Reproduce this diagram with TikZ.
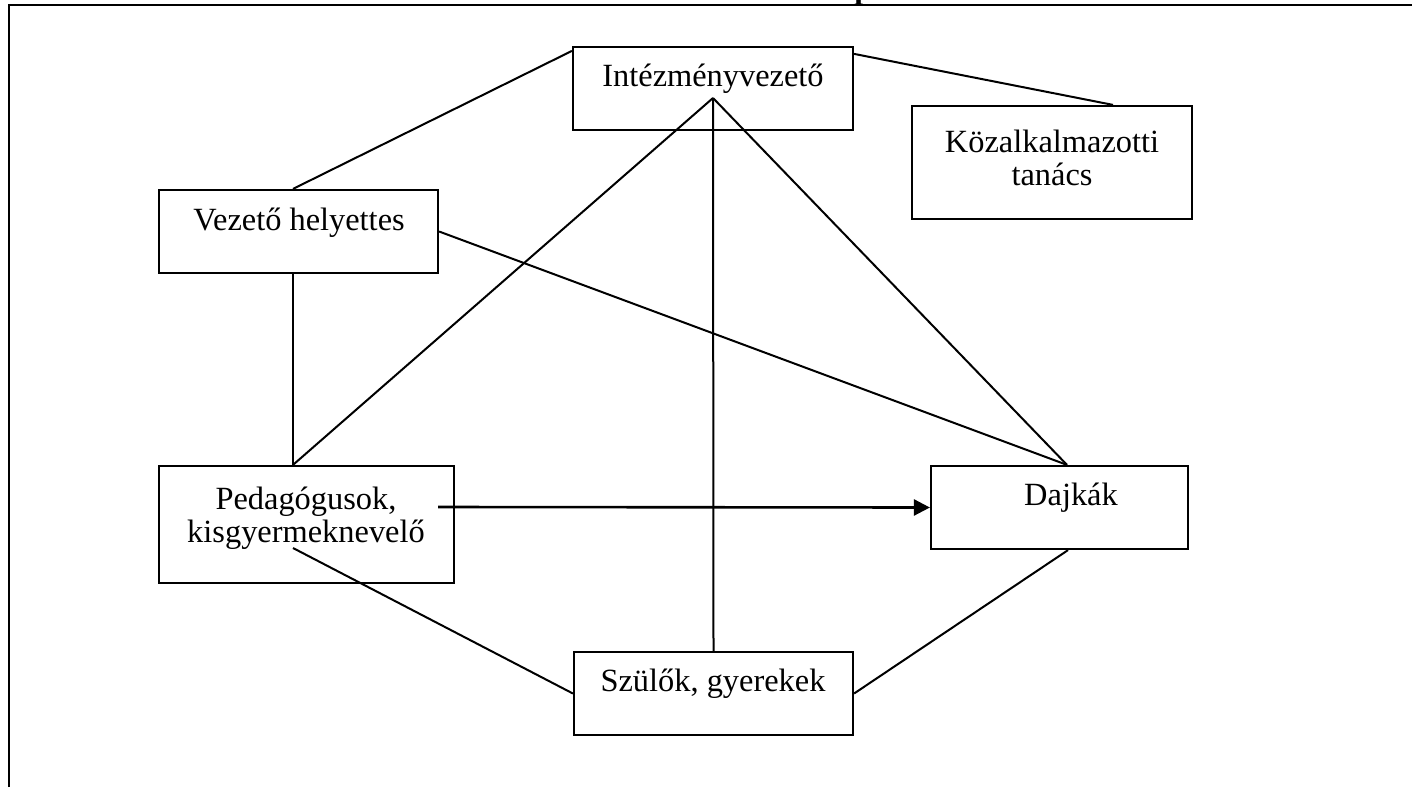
\documentclass[tikz,border=0pt]{standalone}
\usepackage{fontspec}
\setmainfont{Liberation Serif}
\usetikzlibrary{arrows.meta,calc}
\begin{document}
\begin{tikzpicture}[x=0.5pt,y=-0.5pt,
  box/.style={draw,line width=1.1pt,fill=white,minimum width=#1,inner sep=0pt},
  lbl/.style={font=\fontsize{16.2}{16.5}\selectfont,align=center,inner sep=0pt},
  conn/.style={line width=1pt},
  arr/.style={line width=1.3pt,-{Triangle[length=8pt,width=8pt]}}]
\useasboundingbox (0,0) rectangle (1412,787);
\begin{scope}
\clip (0,0) rectangle (1412,787);
\node[anchor=base west,inner sep=0pt,font=\fontsize{16}{16}\selectfont\bfseries] (ttl) at (854,-2) {p};
\end{scope}
\draw[line width=1.2pt] (9,787) -- (9,5) -- (1412,5);

% boxes
\node[box=140pt,minimum height=41.5pt] (iv) at (713,88.5) {};
\node[box=140pt,minimum height=56.5pt] (kt) at (1052,162.5) {};
\node[box=139.5pt,minimum height=41.5pt] (vh) at (298.5,231.5) {};
\node[box=147.5pt,minimum height=58.5pt] (ped) at (306.5,524.5) {};
\node[box=128.5pt,minimum height=41.5pt] (daj) at (1059.5,507.5) {};
\node[box=139.5pt,minimum height=41.5pt] (szul) at (713.5,693.5) {};

% labels
\node[lbl] (ivt) at (713,79) {Intézményvezető};
\node[lbl] (ktt) at (1052,158) {Közalkalmazotti\\tanács};
\node[lbl] (vht) at (299,223) {Vezető helyettes};
\node[lbl] (pedt) at (306,518) {Pedagógusok,\\kisgyermeknevelő};
\node[lbl] (dajt) at (1071,498) {Dajkák};
\node[lbl] (szult) at (713,684) {Szülők, gyerekek};

% connectors
\coordinate (hub) at ($(iv.center)+(0,9.5)$);
\draw[conn] ($(vh.north)+(-5.5,0)$) -- ($(iv.north west)+(0,5)$);
\draw[conn] ($(iv.north east)+(0,8)$) -- ($(kt.north)+(61,0)$);
\draw[conn] (hub) -- ($(ped.north)+(-13.5,0)$);
\draw[conn] (hub) -- (szul.north);
\draw[conn] (hub) -- ($(daj.north)+(7.5,0)$);
\draw[conn] ($(vh.south)+(-5.5,0)$) -- ($(ped.north)+(-13.5,0)$);
\draw[conn] (vh.east) -- ($(daj.north)+(7.5,0)$);
\draw[conn] ($(ped.center)+(-13.5,23.5)$) -- (szul.west);
\draw[conn] ($(daj.south)+(8.5,0)$) -- (szul.east);
\draw[arr] ($(ped.center)+(131.5,-17.5)$) -- (daj.west);
\end{tikzpicture}
\end{document}
